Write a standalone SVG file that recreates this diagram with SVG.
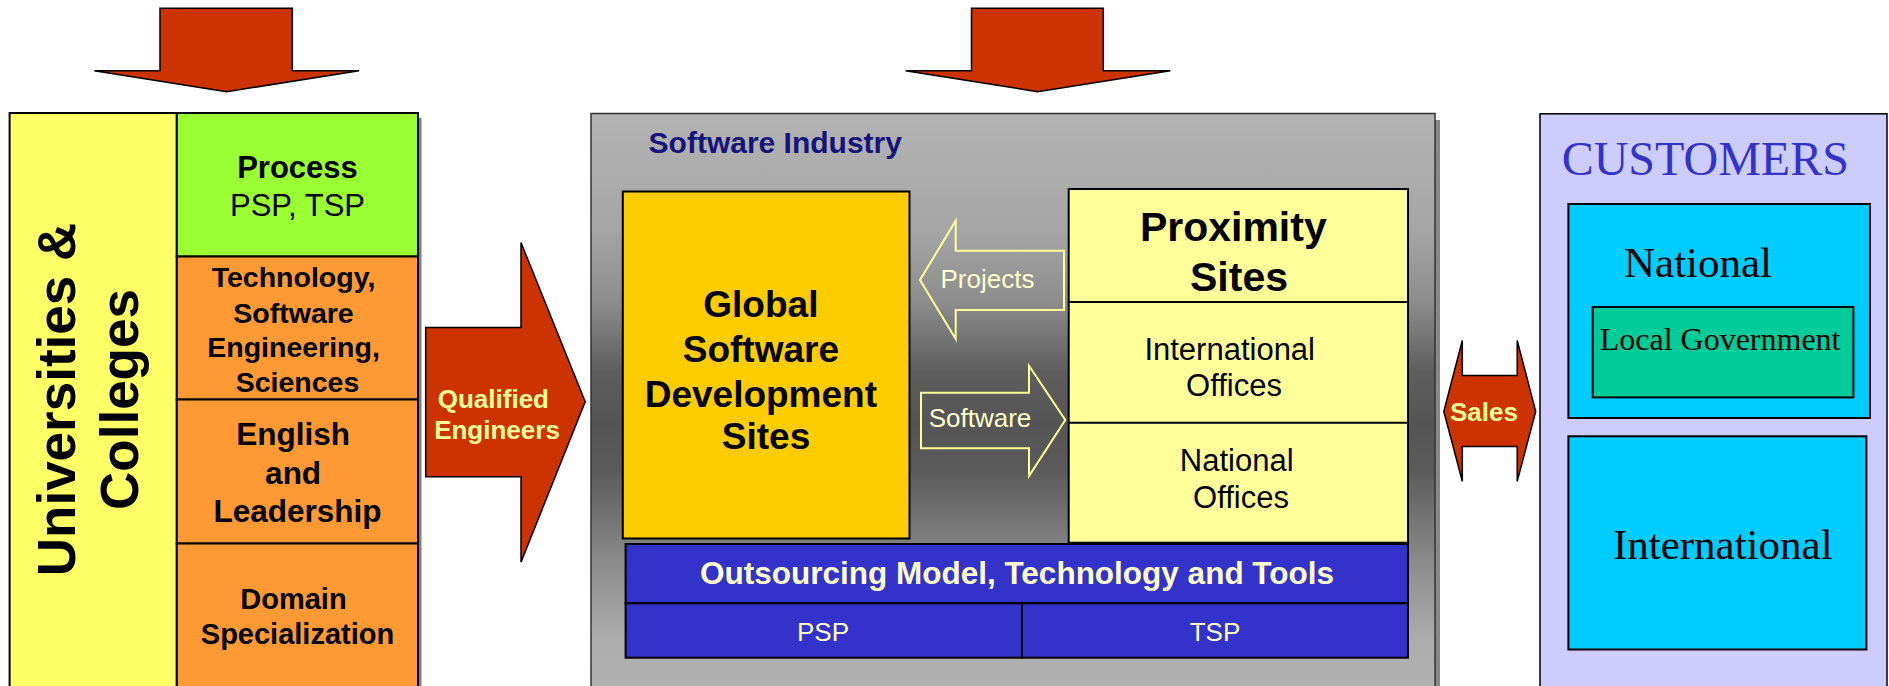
<svg xmlns="http://www.w3.org/2000/svg" width="1889" height="686" viewBox="0 0 1889 686">
  <defs>
    <linearGradient id="industryFill" gradientUnits="userSpaceOnUse" x1="0" y1="114" x2="0" y2="686">
      <stop offset="0" stop-color="#B3B3B3"/>
      <stop offset="0.2" stop-color="#A6A6A6"/>
      <stop offset="0.33" stop-color="#8C8C8C"/>
      <stop offset="0.45" stop-color="#5E5E5E"/>
      <stop offset="0.54" stop-color="#555555"/>
      <stop offset="0.62" stop-color="#5A5A5A"/>
      <stop offset="0.78" stop-color="#8A8A8A"/>
      <stop offset="0.92" stop-color="#ADADAD"/>
      <stop offset="1" stop-color="#B1B1B1"/>
    </linearGradient>
    <style>
      .box { stroke: #000; stroke-width: 2; }
      .fat { fill: #CC3300; stroke: #000; stroke-width: 1.5; stroke-linejoin: miter; }
      .thin { fill: none; stroke: #FFFF99; stroke-width: 2; }
      .sans { font-family: "Liberation Sans", Arial, sans-serif; }
      .serif { font-family: "Liberation Serif", "Times New Roman", serif; }
      .b { font-weight: bold; }
      .mid { text-anchor: middle; }
      .dark { fill: #000; }
      .light { fill: #FFFF99; }
      .pale { fill: #FFFFCC; }
    </style>
  </defs>

  <rect width="1889" height="686" fill="#FFFFFF"/>

  <!-- Universities & Colleges column -->
  <g id="universities">
    <rect x="418" y="118" width="3.5" height="580" fill="#7F7F7F"/>
    <rect class="box" x="9.6" y="113" width="167.2" height="590" fill="#FFFF66"/>
    <text class="sans b dark mid" font-size="53" transform="translate(74.5,399.5) rotate(-90)">Universities &amp;</text>
    <text class="sans b dark mid" font-size="53" transform="translate(137.5,399.5) rotate(-90)">Colleges</text>
  </g>

  <g id="process">
    <rect class="box" x="176.8" y="113" width="241.2" height="143.5" fill="#99FF33"/>
    <text class="sans b dark mid" font-size="31" x="297.5" y="178.4">Process</text>
    <text class="sans dark mid" font-size="31" x="297.5" y="216.4">PSP, TSP</text>
  </g>

  <g id="technology">
    <rect class="box" x="176.8" y="256.5" width="241.2" height="143" fill="#FF9933"/>
    <text class="sans b dark mid" font-size="28.5">
      <tspan x="297.5" y="287">Technology,</tspan>
      <tspan x="297.5" y="323.2">Software</tspan>
      <tspan x="297.5" y="357">Engineering,</tspan>
      <tspan x="297.5" y="392">Sciences</tspan>
    </text>
  </g>

  <g id="english">
    <rect class="box" x="176.8" y="399.5" width="241.2" height="144" fill="#FF9933"/>
    <text class="sans b dark mid" font-size="31.5">
      <tspan x="297.5" y="445.3">English</tspan>
      <tspan x="297.5" y="484">and</tspan>
      <tspan x="297.5" y="522">Leadership</tspan>
    </text>
  </g>

  <g id="domain">
    <rect class="box" x="176.8" y="543.5" width="241.2" height="160" fill="#FF9933"/>
    <text class="sans b dark mid" font-size="29">
      <tspan x="297.5" y="609">Domain</tspan>
      <tspan x="297.5" y="643.5">Specialization</tspan>
    </text>
  </g>

  <!-- Software Industry container -->
  <g id="industry">
    <rect x="1435" y="120" width="5" height="580" fill="#888888"/>
    <rect x="591" y="113.5" width="844" height="590" fill="url(#industryFill)" stroke="#333" stroke-width="1.5"/>
    <text class="sans b" font-size="30" x="648.6" y="153" fill="#14147A">Software Industry</text>
  </g>

  <g id="global-sites">
    <rect class="box" x="622.8" y="191.5" width="286.7" height="347" fill="#FFCC00"/>
    <text class="sans b dark mid" font-size="37">
      <tspan x="766" y="316.7">Global</tspan>
      <tspan x="766" y="361.7">Software</tspan>
      <tspan x="766" y="406.7">Development</tspan>
      <tspan x="766" y="449">Sites</tspan>
    </text>
  </g>

  <g id="proximity-sites">
    <rect class="box" x="1068.7" y="189" width="339.3" height="353.7" fill="#FFFF99"/>
    <line x1="1068.7" y1="302" x2="1408" y2="302" stroke="#000" stroke-width="2"/>
    <line x1="1068.7" y1="422.7" x2="1408" y2="422.7" stroke="#000" stroke-width="2"/>
    <text class="sans b dark mid" font-size="41">
      <tspan x="1239" y="240.7">Proximity</tspan>
      <tspan x="1239" y="291">Sites</tspan>
    </text>
    <text class="sans dark mid" font-size="31">
      <tspan x="1234" y="359.7">International</tspan>
      <tspan x="1234" y="396">Offices</tspan>
    </text>
    <text class="sans dark mid" font-size="31">
      <tspan x="1241" y="470.5">National</tspan>
      <tspan x="1241" y="507.7">Offices</tspan>
    </text>
  </g>

  <g id="outsourcing">
    <rect class="box" x="625.6" y="544" width="782.4" height="59.3" fill="#3333CC"/>
    <text class="sans b pale mid" font-size="31.5" x="1017" y="584">Outsourcing Model, Technology and Tools</text>
  </g>

  <g id="psp">
    <rect class="box" x="625.6" y="603.3" width="396.4" height="54.4" fill="#3333CC"/>
    <text class="sans pale mid" font-size="26" x="823" y="641">PSP</text>
  </g>

  <g id="tsp">
    <rect class="box" x="1022" y="603.3" width="386" height="54.4" fill="#3333CC"/>
    <text class="sans pale mid" font-size="26" x="1215" y="641">TSP</text>
  </g>

  <!-- Customers column -->
  <g id="customers">
    <rect x="1540" y="113.8" width="347" height="590" fill="#CCCCFF" stroke="#000" stroke-width="1.5"/>
    <text class="serif" font-size="48" x="1561.7" y="175" fill="#3333CC">CUSTOMERS</text>
  </g>

  <g id="national">
    <rect class="box" x="1568.4" y="204" width="301.6" height="214" fill="#00CCFF"/>
    <text class="serif dark" font-size="43" x="1624" y="276.6">National</text>
  </g>

  <g id="local-government">
    <rect class="box" x="1592.7" y="307" width="260.7" height="90.4" fill="#00CC99"/>
    <text class="serif dark" font-size="32" x="1599.7" y="350">Local Government</text>
  </g>

  <g id="international">
    <rect class="box" x="1568.4" y="436.3" width="298" height="213.2" fill="#00CCFF"/>
    <text class="serif dark" font-size="43" x="1612.9" y="559">International</text>
  </g>

  <!-- Block arrows -->
  <g id="connectors">
    <polygon class="fat" points="160,8.3 292.3,8.3 292.3,70.7 359,70.7 226.7,91.7 94.3,70.7 160,70.7"/>
    <polygon class="fat" points="971.5,8.3 1103.3,8.3 1103.3,70.7 1170.3,70.7 1037.5,91.7 905.6,70.7 971.5,70.7"/>

    <g id="qualified-engineers">
      <polygon class="fat" points="425.7,327.6 521,327.6 521,242.5 585.2,401.7 521,562.1 521,476.7 425.7,476.7"/>
      <text class="sans b light mid" font-size="26">
        <tspan x="497" y="408.2">Qualified</tspan>
        <tspan x="497" y="438.7">Engineers</tspan>
      </text>
    </g>

    <g id="projects">
      <polygon class="thin" points="1064,250.7 955.7,250.7 955.7,220.7 920,280 955.7,339 955.7,310 1064,310"/>
      <text class="sans pale mid" font-size="26" x="987.5" y="288.3">Projects</text>
    </g>

    <g id="software">
      <polygon class="thin" points="921,392.7 1029,392.7 1029,365.7 1065.3,420 1029,476 1029,448.3 921,448.3"/>
      <text class="sans pale mid" font-size="26" x="980" y="426.7">Software</text>
    </g>

    <g id="sales">
      <polygon class="fat" points="1443.8,411.4 1462.3,340.5 1462.3,375.5 1517.2,375.5 1517.2,340.5 1535.7,411.4 1517.2,481.4 1517.2,446.4 1462.3,446.4 1462.3,481.4"/>
      <text class="sans b light mid" font-size="26" x="1484" y="421">Sales</text>
    </g>
  </g>
</svg>
